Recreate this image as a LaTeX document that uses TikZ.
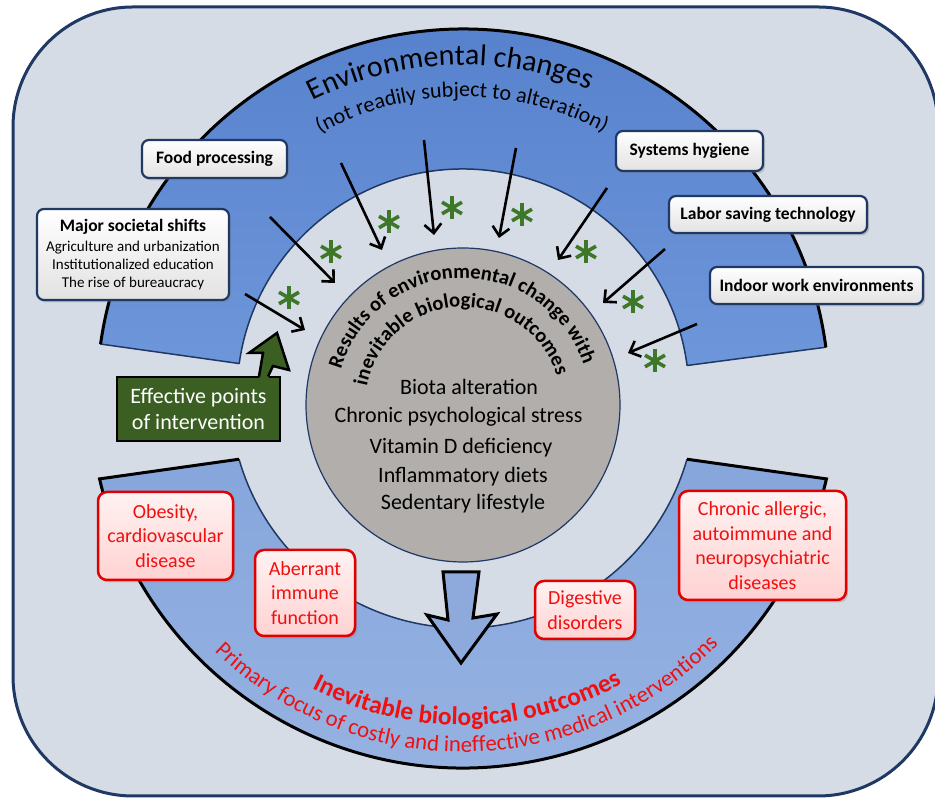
\documentclass[tikz,border=0pt]{standalone}
\usepackage{fontspec}
\setmainfont{Carlito}
\usetikzlibrary{arrows.meta,shadows,decorations.text,calc}
\definecolor{bgc}{HTML}{D6DCE6}
\definecolor{navy}{HTML}{1F3864}
\definecolor{bandA}{HTML}{5580CC}
\definecolor{bandB}{HTML}{6E96DA}
\definecolor{bandC}{HTML}{86A6DC}
\definecolor{bandD}{HTML}{97B3E2}
\definecolor{circgray}{HTML}{B1AEAB}
\definecolor{astgreen}{HTML}{3C7828}
\definecolor{dkgreen}{HTML}{3B5E23}
\definecolor{redbd}{HTML}{E00000}
\definecolor{redtxt}{HTML}{F01010}
\definecolor{pinktop}{HTML}{FFF2F2}
\definecolor{pinkbot}{HTML}{FFD2D2}
\definecolor{boxgray}{HTML}{E2E2E2}
\definecolor{arrblue}{HTML}{8EA9DB}
\begin{document}
\begin{tikzpicture}[x=1pt,y=1pt,
  wbox/.style={draw=navy, line width=2.2pt, rounded corners=7pt, top color=white, bottom color=boxgray,
    drop shadow={shadow xshift=2pt,shadow yshift=-2.5pt,opacity=0.35},
    font=\fontsize{17.5}{20}\selectfont\bfseries, align=center, inner sep=0pt},
  rbox/.style={draw=redbd, line width=2.5pt, rounded corners=9pt, top color=pinktop, bottom color=pinkbot,
    drop shadow={shadow xshift=2pt,shadow yshift=-2.5pt,opacity=0.35},
    text=redtxt, font=\fontsize{20}{24.5}\selectfont, align=center, inner sep=0pt},
  arr/.style={draw=black, line width=2.6pt, -{Straight Barb[length=9pt,width=17pt]}},
  ast/.style={draw=astgreen, line width=3.6pt},
  inlist/.style={font=\fontsize{22}{26}\selectfont, inner sep=0pt}
]
\useasboundingbox (0,0) rectangle (935,799);
\clip (0,0) rectangle (935,799);
% background
\draw[fill=bgc, draw=navy, line width=3pt, rounded corners=120pt] (13,3) rectangle (938,792);
\coordinate (C) at (463,404);
\coordinate (Cc) at (463,394);
% top band
\shade[top color=bandA, bottom color=bandB] ($(C)+(7.5:366)$) arc[start angle=7.5,end angle=172,radius=366] -- ($(C)+(172:226)$) arc[start angle=172,end angle=7.5,radius=226] -- cycle;
\draw[navy, line width=1.5pt, line join=round] ($(C)+(7.5:366)$) arc[start angle=7.5,end angle=172,radius=366] -- ($(C)+(172:226)$) arc[start angle=172,end angle=7.5,radius=226] -- cycle;
\draw[black, line width=3pt] ($(C)+(7.5:366)$) arc[start angle=7.5,end angle=172,radius=366];
% bottom band
\shade[top color=bandC, bottom color=bandD] ($(C)+(193:373)$) arc[start angle=193,end angle=347,radius=373] -- ($(C)+(344:233)$) arc[start angle=344,end angle=196,radius=233] -- cycle;
\draw[navy, line width=1.5pt] ($(C)+(344:233)$) arc[start angle=344,end angle=196,radius=233];
\draw[black, line width=3pt, line join=miter] ($(C)+(196:233)$) -- ($(C)+(193:373)$) arc[start angle=193,end angle=347,radius=373] -- ($(C)+(344:233)$);
% band texts
\path[decorate, decoration={text along path, text align=center,
  text={|\fontsize{30}{36}\selectfont|Environmental changes}}]
  ($(C)+(150:330)$) arc[start angle=150,end angle=34.6,radius=330];
\path[decorate, decoration={text along path, text align=center,
  text={|\fontsize{22}{26}\selectfont|(not readily subject to alteration)}}]
  ($(C)+(150:298)$) arc[start angle=150,end angle=30.4,radius=298];
% central circle
\node[circle, draw=navy, line width=1.2pt, fill=circgray, minimum size=314pt, inner sep=0pt] (core) at (Cc) {};
\path[decorate, decoration={text along path, text align=center,
  text={|\fontsize{20.5}{24}\selectfont\bfseries|Results of environmental change with}}]
  ($(Cc)+(175:127)$) arc[start angle=175,end angle=7,radius=127];
\path[decorate, decoration={text along path, text align=center,
  text={|\fontsize{20.5}{24}\selectfont\bfseries|inevitable biological outcomes}}]
  ($(Cc)+(177:98)$) arc[start angle=177,end angle=9,radius=98];
\node[inlist] (l1) at (469,412) {Biota alteration};
\node[inlist] (l2) at (458.5,382) {Chronic psychological stress};
\node[inlist] (l3) at (461,351) {Vitamin D deficiency};
\node[inlist] (l4) at (463,322) {Inflammatory diets};
\node[inlist] (l5) at (463,295) {Sedentary lifestyle};
% black arrows
\coordinate (a1s) at (270,582); \coordinate (a1e) at (335,516);
\coordinate (a2s) at (245,505); \coordinate (a2e) at (305,469);
\coordinate (a3s) at (341,636); \coordinate (a3e) at (382,549);
\coordinate (a4s) at (424,659); \coordinate (a4e) at (434,564);
\coordinate (a5s) at (516,651); \coordinate (a5e) at (499,561);
\coordinate (a6s) at (607,611); \coordinate (a6e) at (558,539);
\coordinate (a7s) at (665,550); \coordinate (a7e) at (603,496);
\coordinate (a8s) at (697,475); \coordinate (a8e) at (628,446);
\foreach \i in {1,...,8} {\draw[arr] (a\i s) -- (a\i e);}
% asterisks
\foreach \px/\py in {289/501,331/547,389/577,452/591,522/584,586/547,633/497,655/438} {
  \draw[ast] ($(\px,\py)+(90:11.5)$) -- ($(\px,\py)+(270:11.5)$);
  \draw[ast] ($(\px,\py)+(30:11.5)$) -- ($(\px,\py)+(210:11.5)$);
  \draw[ast] ($(\px,\py)+(150:11.5)$) -- ($(\px,\py)+(330:11.5)$);
}
% white boxes
\node[wbox, minimum width=145pt, minimum height=38pt] (food) at (214.5,640) {Food processing};
\node[wbox, minimum width=192pt, minimum height=91pt, font=\fontsize{15}{18}\selectfont] (major) at (133,544.5)
  {{\fontsize{17.5}{20}\selectfont\bfseries Major societal shifts}\\[1.5pt]Agriculture and urbanization\\Institutionalized education\\The rise of bureaucracy};
\node[wbox, minimum width=147pt, minimum height=40pt] (hyg) at (689.5,648) {Systems hygiene};
\node[wbox, minimum width=198pt, minimum height=37pt] (labor) at (768,584.5) {Labor saving technology};
\node[wbox, minimum width=213pt, minimum height=37pt] (indoor) at (816.5,513.5) {Indoor work environments};
% green intervention arrow
\node[draw=black, line width=2.5pt, fill=dkgreen, text=white, minimum width=163pt, minimum height=64pt,
  font=\fontsize{22}{26}\selectfont, align=center, inner sep=0pt] (eff) at (198.5,390) {Effective points\\of intervention};
\fill[dkgreen] (259,419) -- (263,446) -- (249,446) -- (277,466) -- (289,429) -- (273,433) -- (268,419) -- cycle;
\draw[black, line width=2.5pt, line join=miter] (259,422.5) -- (263,446) -- (249,446) -- (277,466) -- (289,429) -- (273,433) -- (268,422.5);
% red boxes
\node[rbox, minimum width=135pt, minimum height=88pt] (obes) at (165.5,263) {Obesity,\\cardiovascular\\disease};
\node[rbox, minimum width=100pt, minimum height=86pt] (aber) at (305,206) {Aberrant\\immune\\function};
\node[rbox, minimum width=100pt, minimum height=58pt] (dige) at (585,189) {Digestive\\disorders};
\node[rbox, minimum width=167pt, minimum height=109pt] (chron) at (762.5,253.5) {Chronic allergic,\\autoimmune and\\neuropsychiatric\\diseases};
% blue down arrow
\draw[fill=arrblue, draw=black, line width=3pt, line join=miter] (443,227) -- (479,227) -- (473,181) -- (497,185) -- (461,136) -- (427,184) -- (448,179) -- cycle;
% bottom texts
\path[decorate, decoration={text along path, text align=center, text color=redtxt,
  text={|\fontsize{25.5}{30}\selectfont\bfseries|Inevitable biological outcomes}}]
  ($(C)+(200:330)$) arc[start angle=200,end angle=341.6,radius=330];
\path[decorate, decoration={text along path, text align=center, text color=redtxt,
  text={|\fontsize{22.8}{27}\selectfont|Primary focus of costly and ineffective medical interventions}}]
  ($(C)+(200:357)$) arc[start angle=200,end angle=341.6,radius=357];
\end{tikzpicture}
\end{document}
